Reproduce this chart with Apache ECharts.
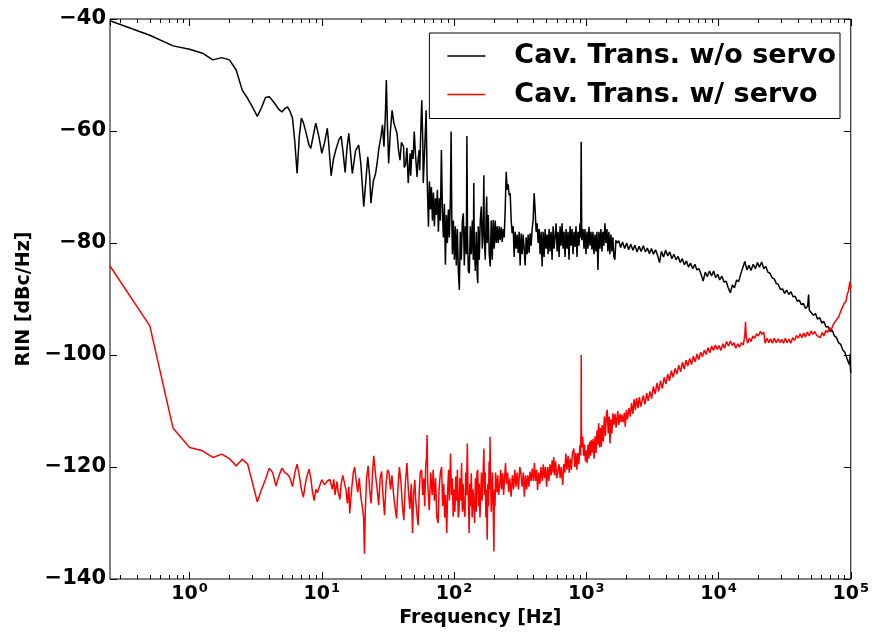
<!DOCTYPE html>
<html>
<head>
<meta charset="utf-8">
<script src="https://cdn.jsdelivr.net/npm/echarts@6/dist/echarts.min.js"></script>
<style>
  html, body { margin: 0; padding: 0; background: #fff; }
  #main { width: 872px; height: 639px; }
</style>
</head>
<body>
<div id="main"></div>
<script>
// RIN of cavity transmission, [frequency Hz, dBc/Hz]
var woServo = [
  [0.25, -40.3], [0.5, -42.9], [0.75, -44.8], [1.0, -45.4], [1.25, -46.1], [1.5, -47.3], [1.75, -46.9], [2.0, -47.3],
  [2.25, -49.1], [2.5, -52.7], [2.75, -54.2], [3.0, -55.8], [3.25, -57.4], [3.5, -55.8], [3.75, -54.0], [4.0, -53.9],
  [4.25, -54.6], [4.5, -55.4], [4.75, -56.2], [5.0, -56.6], [5.25, -56.0], [5.5, -55.7], [5.75, -56.5], [6.0, -57.7],
  [6.25, -62], [6.5, -67.6], [6.75, -61], [7.0, -57.7], [7.25, -58.5], [7.5, -59.8], [8.0, -62.5], [8.25, -63.1],
  [8.75, -60], [9.0, -58.6], [9.5, -61], [10.0, -64], [10.5, -62], [11.0, -59.5], [11.25, -62], [11.75, -68],
  [12.25, -65], [12.75, -63.4], [13.5, -61.5], [14.0, -60.9], [14.5, -64], [15.0, -67.4], [15.5, -63], [16.0, -60.4],
  [16.5, -64], [17.0, -67.6], [17.5, -65.5], [18.0, -63.5], [19.0, -62.5], [19.75, -66], [20.75, -73.5], [21.5, -69],
  [22.25, -64.6], [23.0, -68], [23.5, -72.9], [24.5, -69], [25.5, -67.6], [26.25, -65.5], [27.0, -63.1], [28.0, -61],
  [28.75, -58.9], [29.5, -62.8], [30.25, -57], [30.75, -50.9], [31.25, -58], [32.0, -65.8], [33.0, -60], [34.0, -56.3],
  [35.0, -58.5], [36.0, -58.6], [37.0, -60.4], [38.0, -63.4], [39.0, -65.2], [40.0, -62], [41.5, -62.8], [42.0, -66.5],
  [43.0, -66], [44.0, -63], [45.0, -69.3], [46.5, -64], [47.0, -68], [48.0, -63.4], [49.0, -65], [50.0, -60.1],
  [51.0, -64], [52.5, -68.2], [53.5, -65], [54.5, -63.4], [55.0, -67], [56.0, -60], [57.0, -54.5], [58.0, -62],
  [58.5, -69.3], [60.0, -63], [61.5, -56.3], [62.5, -68],
  [64.0, -77.1], [65.1, -69], [66.3, -74], [67.4, -70], [68.6, -76], [69.8, -71], [71.0, -77], [72.3, -72],
  [73.5, -75], [74.8, -70.5], [76.1, -78], [77.5, -72], [78.8, -76], [80.2, -63.4], [81.6, -74], [83.0, -79],
  [84.5, -73], [86.0, -83.9], [87.5, -75], [89.0, -80], [90.6, -74], [92.1, -79], [93.8, -72], [95.0, -60.1],
  [96.2, -76], [97.1, -82], [98.8, -76], [100.5, -83], [102.3, -77], [104.0, -84], [105.9, -77.5], [107.7, -85],
  [109.6, -88.4], [111.5, -78], [113.5, -83], [115.5, -76], [117.5, -74.7], [119.5, -84], [121.6, -77], [123.8, -82],
  [125.0, -60.9], [126.5, -79], [128.1, -85], [130.4, -85.4], [132.7, -77], [135.0, -82], [137.4, -76], [139.8, -83],
  [141.0, -69.3], [142.2, -80], [144.7, -85], [147.2, -78], [149.8, -86], [151.0, -87.2], [152.4, -77], [155.1, -83],
  [157.8, -76], [160.6, -73.5], [163.4, -81], [166.3, -76], [168.0, -67.9], [169.2, -79], [172.1, -83], [175.2, -74],
  [176.5, -71.7], [178.2, -80], [181.3, -75], [184.5, -82], [187.7, -84.2], [191.0, -76], [194.4, -83], [197.8, -75.9],
  [201.3, -81], [204.8, -76], [208.4, -80], [212.0, -77], [215.7, -80], [219.5, -77], [223.4, -79.5], [227.3, -77.2],
  [231.3, -79.8], [235.3, -77.5], [239.4, -79], [243.6, -74], [247.9, -67.3], [252.2, -70.5], [256.6, -69.5], [261.1, -71.5],
  [265.7, -71.1], [270.4, -76], [275.1, -78.3], [279.9, -77], [284.8, -82.5], [289.8, -78], [294.9, -81], [300.1, -78.5],
  [305.3, -81.8], [310.7, -78], [316.1, -84], [321.7, -78.3], [327.3, -82], [333.0, -78.5], [338.9, -81], [344.8, -84],
  [350.9, -79], [357.0, -82], [363.3, -78.5], [369.6, -81.8], [376.1, -78.3], [382.7, -80.5], [389.4, -77.5], [396.2, -76],
  [403.2, -71.1], [410.2, -74], [417.4, -78], [424.7, -76.5], [432.2, -80], [439.8, -77.5], [447.5, -82], [455.3, -78],
  [463.3, -84.2], [471.4, -78], [479.7, -82.5], [488.1, -77.5], [496.6, -81], [505.3, -78.5], [514.2, -82], [523.2, -77.5],
  [532.4, -81.5], [541.7, -78], [551.2, -83], [560.8, -77], [570.6, -81], [580.6, -78.9], [590.8, -76.5], [601.2, -81.5],
  [611.7, -78], [622.4, -82.5], [633.3, -77], [644.4, -80.5], [655.7, -76.5], [667.2, -81], [678.9, -78], [690.8, -82.5],
  [702.9, -77.5], [715.2, -81], [727.7, -78], [740.4, -83], [753.4, -77], [766.6, -80.5], [780.0, -77.5], [793.6, -82],
  [807.5, -78], [821.7, -80.7], [836.1, -77], [850.7, -82.5], [865.6, -78], [880.8, -80.5], [896.2, -76.5], [906, -79],
  [915, -61.9], [924, -79.5], [944.1, -77.5], [960.6, -81], [977.4, -77.5], [994.5, -82], [1012, -78], [1030, -81],
  [1048, -77.1], [1066, -80.5], [1085, -78], [1104, -81.2], [1123, -78], [1143, -82], [1163, -78.5], [1183, -81.5],
  [1204, -78], [1225, -84.8], [1246, -78], [1268, -81], [1290, -77.5], [1313, -81.5], [1336, -78], [1359, -80.5],
  [1383, -76.5], [1407, -80], [1432, -77.5], [1457, -81.5], [1482, -78], [1508, -82], [1535, -78.5], [1562, -81.5],
  [1589, -79], [1617, -82.5], [1645, -83], [1674, -79.5], [1700, -80],
  [1760, -79.6], [1820, -80.8], [1880, -79.8], [1950, -81], [2020, -80], [2090, -81.2], [2170, -80.2], [2250, -81.3],
  [2330, -80.4], [2420, -81.6], [2510, -80.6], [2600, -81.5], [2700, -80.5], [2800, -81.6], [2900, -80.9], [3000, -81.9],
  [3110, -81], [3220, -82], [3340, -81.2], [3460, -82.2], [3580, -83.5], [3700, -81.5], [3840, -82.5], [3980, -81.3],
  [4130, -82.3], [4280, -81.6], [4440, -82.8], [4600, -82], [4770, -83], [4950, -82.4], [5130, -83.5], [5320, -82.8],
  [5520, -83.9], [5720, -83.2], [5930, -84.3], [6150, -83.6], [6380, -84.6], [6620, -83.8], [6860, -84.8], [7120, -84.6],
  [7380, -85.6], [7650, -86.8], [7940, -85.2], [8230, -86], [8540, -85], [8850, -85.9], [9180, -85], [9520, -86.2],
  [9870, -85.6], [10200, -86.6], [10600, -85.9], [11000, -87], [11400, -86.8], [11800, -87.9], [12300, -88.9], [12700, -87.5],
  [13200, -88], [13700, -86.6], [14200, -86.9], [14700, -85.6], [15200, -85.5], [15800, -83.3], [16400, -84.8], [17000, -84],
  [17600, -84.9], [18300, -83.8], [19000, -84.6], [19700, -83.5], [20400, -84.3], [21200, -83.4], [22000, -84.6], [22800, -84.2],
  [23600, -85.2], [24500, -85.4], [25400, -86.2], [26400, -86.4], [27300, -87.2], [28300, -87.4], [29400, -88.3], [30500, -88.2],
  [31600, -89], [32800, -88.4], [34000, -89.2], [35300, -88.7], [36600, -89.6], [38000, -89.5], [39400, -90.4], [40800, -90.2],
  [42300, -91], [43900, -90.8], [45500, -91.7], [47200, -91.3], [48000, -89.2], [48600, -92], [50300, -92], [52200, -92.9],
  [54100, -92.6], [56100, -93.6], [58200, -93.3], [60400, -94.3], [62600, -94], [65000, -95], [67400, -94.9], [69900, -95.8],
  [72500, -95.6], [75200, -96.6], [78000, -96.9], [80900, -97.8], [83900, -98.1], [87000, -99.1], [90200, -99.5], [93500, -100.6],
  [96000, -100.9], [98000, -101.8], [99000, -99.8], [99500, -102.5], [100000, -103.2]
];

var wServo = [
  [0.25, -84.1], [0.5, -94.8], [0.75, -113.1], [1.0, -116.5], [1.25, -117.1], [1.5, -118.3], [1.75, -117.7], [2.0, -118.5],
  [2.25, -119.8], [2.5, -118.6], [2.75, -119.5], [3.0, -123], [3.25, -126.2], [3.5, -124], [3.75, -122.2], [4.0, -120.2],
  [4.25, -121], [4.5, -123.4], [4.75, -121.5], [5.0, -120.2], [5.25, -121], [5.5, -121.3], [5.75, -122], [6.0, -123.5],
  [6.25, -121], [6.5, -119.5], [6.75, -121.5], [7.0, -124], [7.25, -125.4], [7.5, -123], [7.75, -121.5], [8.0, -120.4],
  [8.25, -122], [8.5, -124.5], [8.75, -126], [9.0, -124], [9.25, -124.6], [9.75, -123], [10.0, -122.3], [10.5, -123.2],
  [11.0, -122.5], [11.5, -122.2], [12.0, -124], [12.3, -122.2], [12.6, -125], [13.0, -122.6], [13.3, -124.5], [13.7, -125.8],
  [14.0, -123], [14.4, -121.5], [14.8, -121.3], [15.2, -124], [15.6, -126.5], [16.0, -123.5], [16.25, -128.3], [16.8, -124],
  [17.3, -121], [17.7, -120], [18.2, -122.5], [18.7, -124.5], [19.2, -122], [19.7, -125.3], [20.2, -127], [20.7, -129],
  [21.0, -135.5], [21.3, -128], [21.8, -122], [22.4, -119.8], [23.0, -124], [23.6, -126.5], [24.2, -121], [24.7, -118],
  [25.5, -121.5], [26.2, -124], [26.9, -126.8], [27.6, -122], [28.3, -120.8], [29.0, -125], [29.8, -128.6], [30.6, -123],
  [31.4, -120.5], [32.2, -121], [33.1, -124], [33.9, -121.5], [34.8, -124.7], [35.7, -127], [36.7, -129.2], [37.6, -124],
  [38.6, -120], [39.6, -122.5], [40.7, -127], [41.7, -129.5], [42.8, -123], [44.0, -119.3], [45.1, -124], [46.3, -127.5],
  [47.5, -123], [48.5, -131.8], [49.4, -125], [50.5, -122.3], [51.3, -126], [52.7, -129], [53.5, -130.4], [54.6, -124],
  [55.5, -121], [56.8, -120.5], [58.0, -125], [59.0, -122], [60.0, -127], [61.0, -120], [62.0, -118], [62.5, -114.3],
  [63.2, -123], [64.9, -127.7], [66.6, -121], [68.3, -125], [69.5, -120.5], [71.0, -126], [72.5, -122], [74.0, -129],
  [75.8, -130], [77.0, -124], [78.8, -121], [80.5, -120], [81.9, -127], [83.5, -123], [85.0, -129], [86.3, -125],
  [88.0, -131.8], [89.5, -124], [90.9, -120.5], [92.2, -126], [94.0, -117.6], [95.7, -125], [97.0, -122], [98.5, -128.9],
  [100, -124], [101.5, -128], [103, -121.7], [104.5, -126], [106, -120.5], [107.5, -129], [109, -127.7], [110.5, -122],
  [112, -126], [114, -119.3], [115.5, -128], [117, -123], [119, -127.5], [121, -128.9], [122.5, -121], [124, -125],
  [126, -115.8], [127.5, -124], [129, -128], [130, -131.8], [131.5, -123], [133, -127], [135, -121.1], [137, -129],
  [139, -124], [141, -126.5], [143, -130], [145, -122], [147, -128], [149, -121], [151, -120.5], [153, -127],
  [155, -123], [157, -129], [159, -128.9], [161, -121], [163, -126], [165, -123], [168, -116.7], [170, -125],
  [172, -121], [174, -129], [176, -124], [178, -133], [180, -123], [182, -127], [184, -119], [186, -124],
  [187, -114.6], [189, -122], [191, -128], [193, -127.7], [195, -121], [197, -126], [198.5, -130], [200, -135.1],
  [202, -124], [204, -127], [206, -121], [208, -121.1], [211, -124.5], [214, -121.5], [217, -125], [221, -123.5],
  [225, -120.5], [229, -124], [233, -121.1], [237, -125], [241, -122], [245, -119.3], [249, -123], [254, -121],
  [259, -124.5], [264, -122], [270, -125.3], [276, -121.5], [282, -124], [288, -120.5], [294, -123.5], [300, -121],
  [307, -124], [314, -120], [320, -121], [327, -123.5], [334, -121], [340, -125.3], [347, -121.5], [354, -124],
  [361, -121.5], [368, -123.5], [375, -120.8], [382, -122.5], [390, -120.3], [398, -122.5], [405, -119.3], [413, -122.5],
  [421, -120.5], [428, -124.1], [437, -121], [446, -123], [455, -120], [464, -122.5], [473, -119.5], [482, -122],
  [491, -120], [501, -123.5], [511, -120], [521, -122.5], [531, -119.5], [542, -121.5], [552, -118.8], [563, -121],
  [567, -118.2], [575, -121.5], [586, -119], [598, -122], [610, -121.7], [622, -119.5], [634, -122], [647, -120],
  [663, -123.2], [675, -119.5], [688, -121], [700, -117.6], [714, -120.5], [728, -118], [742, -121], [756, -118.5],
  [771, -120.5], [786, -117.5], [805, -116.7], [818, -120], [833, -117.5], [848, -120.5], [862, -117.5], [878, -119.5],
  [895, -116.1], [905, -118], [912, -113], [915, -100], [918, -113], [925, -116.5], [940, -114.6], [955, -118],
  [970, -116], [985, -119], [1000, -117], [1015, -119.3], [1030, -116], [1045, -118.5], [1060, -115.5], [1075, -118],
  [1090, -115.2], [1105, -117.5], [1125, -115], [1145, -118.5], [1165, -114.5], [1185, -117.5], [1205, -113.5], [1225, -116],
  [1240, -112.2], [1260, -116.5], [1280, -113], [1300, -116.4], [1320, -112.5], [1345, -115.5], [1370, -111], [1395, -114.5],
  [1420, -110.5], [1440, -109.8], [1465, -114], [1490, -111], [1510, -115.8], [1535, -111.5], [1560, -114], [1590, -110.4],
  [1620, -112.5], [1650, -110.5], [1680, -113], [1700, -111.6], [1730, -110], [1760, -112.5], [1800, -110.5], [1830, -112],
  [1860, -110.7], [1900, -112], [1940, -110.3], [1970, -112.8], [2010, -109.8], [2050, -111.5], [2100, -109.5], [2150, -111],
  [2200, -108.6], [2250, -110.5], [2300, -107.9], [2350, -109.8], [2400, -107.7], [2460, -109.5], [2520, -107.5], [2580, -109.2],
  [2640, -109.5], [2700, -107.2], [2780, -108.8], [2860, -106.8], [2940, -108.2], [3030, -106.5], [3120, -107.8], [3220, -105.6],
  [3320, -107], [3420, -105], [3530, -106.5], [3640, -104.6], [3760, -106], [3880, -104], [4000, -105.2], [4130, -103.4],
  [4260, -104.6], [4400, -102.8], [4540, -104], [4690, -102.4], [4840, -103.4], [5000, -101.8], [5160, -103], [5330, -101.3],
  [5500, -102.5], [5680, -100.9], [5860, -102], [6050, -100.6], [6250, -101.7], [6450, -100.2], [6660, -101.2], [6880, -99.8],
  [7100, -100.8], [7330, -99.5], [7570, -100.3], [7810, -99.1], [8070, -99.9], [8330, -98.7], [8600, -99.6], [8880, -98.4],
  [9170, -99.2], [9470, -98.2], [9780, -99], [10100, -98.3], [10400, -99.2], [10800, -98], [11100, -98.8], [11500, -97.6],
  [11900, -98.4], [12300, -97.5], [12700, -98.3], [13100, -97.8], [13500, -98.8], [14000, -98], [14400, -98.6], [14900, -97.8],
  [15400, -98.2], [15800, -96.5], [16000, -94.1], [16200, -96.8], [16600, -97.9], [17100, -97], [17600, -97.6], [18200, -96.6],
  [18800, -97], [19400, -96.2], [20000, -96.6], [20700, -95.8], [21300, -96.3], [22000, -95.9], [22500, -97.9], [23300, -97],
  [24000, -97.8], [24800, -97.1], [25600, -97.9], [26400, -97], [27300, -97.8], [28200, -97.1], [29100, -97.8], [30000, -97.2],
  [31000, -97.9], [32000, -97], [33000, -97.8], [34100, -97.2], [35200, -97.9], [36400, -96.9], [37600, -97.4], [38800, -96.5],
  [40100, -97], [41400, -96.2], [42700, -96.9], [44100, -96.1], [45500, -96.8], [47000, -95.9], [48500, -96.6], [50100, -95.7],
  [51800, -96.3], [53400, -95.8], [55200, -96.5], [57000, -96.2], [58800, -96.9], [60700, -96], [62700, -96.6], [64700, -95.6],
  [66800, -96], [69000, -95.1], [71300, -95.5], [73600, -94.6], [76000, -94.6], [78400, -93.6], [81000, -93.2], [83600, -92.3],
  [86300, -92], [89100, -90.8], [92000, -90.4], [94000, -89.2], [96000, -88.6], [97500, -87.6], [98500, -86.9], [99300, -88.2],
  [100000, -87.5]
];

var seriesNames = ['Cav. Trans. w/o servo', 'Cav. Trans. w/ servo'];
var xMin = 0.25, xMax = 1e5;
var yMin = -140, yMax = -40, yStep = 20;

// minor ticks of the log axis: 2..9 x 10^k
var minorTicks = [];
for (var k = -1; k <= 4; k++) {
  for (var m = 2; m <= 9; m++) {
    var v = m * Math.pow(10, k);
    if (v > xMin && v < xMax) minorTicks.push(v);
  }
}

var font = 'DejaVu Sans';

function expLabel(value) {
  var n = Math.round(Math.log(value) / Math.LN10);
  return '{b|10}{e|' + n + '}';
}

function logAxis(pos, minor) {
  var ax = {
    type: 'log',
    logBase: 10,
    position: pos,
    min: xMin,
    max: xMax,
    splitLine: { show: false },
    axisLine: { show: false },
    axisTick: { inside: true, length: minor ? 4 : 7, lineStyle: { color: '#000', width: 1 } },
    axisLabel: { show: false }
  };
  if (minor) ax.axisTick.customValues = minorTicks;
  return ax;
}

var xMain = logAxis('bottom', false);
xMain.name = 'Frequency [Hz]';
xMain.nameLocation = 'middle';
xMain.nameGap = 28;
xMain.nameTextStyle = { fontFamily: font, fontWeight: 'bold', fontSize: 19, color: '#000' };
xMain.axisLabel = {
  show: true,
  showMinLabel: false,
  margin: 3,
  formatter: expLabel,
  rich: {
    b: { fontFamily: font, fontWeight: 'bold', fontSize: 19, color: '#000', lineHeight: 22, verticalAlign: 'bottom' },
    e: { fontFamily: font, fontWeight: 'bold', fontSize: 13, color: '#000', lineHeight: 22, verticalAlign: 'top', padding: [0, 0, 8, 1] }
  }
};

function linAxis(pos) {
  return {
    type: 'value',
    position: pos,
    min: yMin,
    max: yMax,
    interval: yStep,
    splitLine: { show: false },
    axisLine: { show: false },
    axisTick: { inside: true, length: 7, lineStyle: { color: '#000', width: 1 } },
    axisLabel: { show: false }
  };
}

var yMain = linAxis('left');
yMain.name = 'RIN [dBc/Hz]';
yMain.nameLocation = 'middle';
yMain.nameRotate = 90;
yMain.nameGap = 75;
yMain.nameTextStyle = { fontFamily: font, fontWeight: 'bold', fontSize: 19, color: '#000' };
yMain.axisLabel = {
  show: true,
  margin: 4,
  fontFamily: font,
  fontWeight: 'bold',
  fontSize: 21,
  color: '#000',
  formatter: function (v) { return v < 0 ? '\u2212' + Math.abs(v) : String(v); }
};

var option = {
  animation: false,
  backgroundColor: '#fff',
  grid: {
    left: 110, right: 19, top: 19, bottom: 60,
    show: true, borderColor: '#000', borderWidth: 1
  },
  legend: {
    orient: 'vertical',
    right: 32,
    top: 33,
    data: seriesNames,
    icon: 'rect',
    itemWidth: 38,
    itemHeight: 1.5,
    itemGap: 8.5,
    padding: [8, 4, 9, 18],
    borderColor: '#000',
    borderWidth: 1,
    borderRadius: 0,
    backgroundColor: '#fff',
    textStyle: { fontFamily: font, fontWeight: 'bold', fontSize: 27, lineHeight: 30, color: '#000', padding: [0, 0, 0, 24] }
  },
  xAxis: [xMain, logAxis('bottom', true), logAxis('top', false), logAxis('top', true)],
  yAxis: [yMain, linAxis('right')],
  series: [
    {
      name: seriesNames[0],
      type: 'line',
      data: woServo,
      showSymbol: false,
      lineStyle: { color: '#000', width: 1.5 },
      itemStyle: { color: '#000' }
    },
    {
      name: seriesNames[1],
      type: 'line',
      data: wServo,
      showSymbol: false,
      lineStyle: { color: '#ff0000', width: 1.5 },
      itemStyle: { color: '#ff0000' }
    }
  ]
};

var chart = echarts.init(document.getElementById('main'), null, { renderer: 'canvas' });
chart.setOption(option);
</script>
</body>
</html>
